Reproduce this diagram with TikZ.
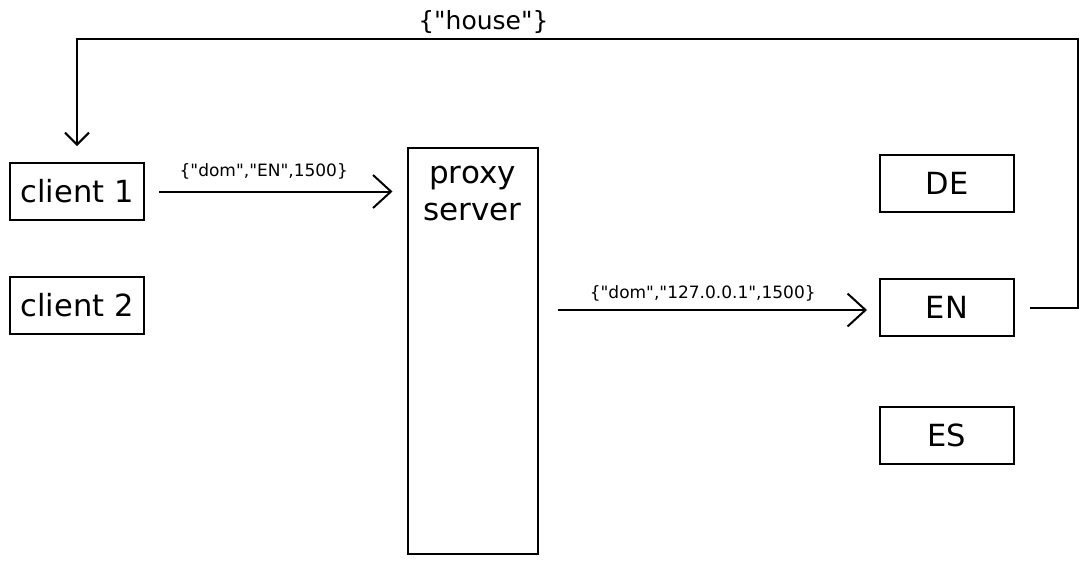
\documentclass[tikz,border=0pt]{standalone}
\usepackage{fontspec}
\setmainfont{DejaVu Sans}[Ligatures=TeXOff]
\usetikzlibrary{arrows.meta}
\tikzset{
  box/.style={draw, line width=2pt, minimum width=134pt, minimum height=57pt, inner sep=0pt, font=\fontsize{30.5}{37}\selectfont},
  msg/.style={line width=2pt, -{Straight Barb[length=18pt,width=33pt,line width=2pt]}},
  back/.style={line width=2pt, -{Straight Barb[length=12pt,width=24pt,line width=2pt]}},
  lbl/.style={font=\fontsize{17}{20}\selectfont, inner sep=2pt}
}
\begin{document}
\begin{tikzpicture}[x=1pt, y=-1pt]
    \useasboundingbox (0,0) rectangle (1090,563);
    \node[box] (CL1) at (77, 191.5) {client 1};
    \node[box] (CL2) at (77, 305.5) {client 2};
    \node[box, minimum width=130pt, minimum height=406pt] (PX) at (472.5, 350.5) {};
    \node[anchor=north, align=center, inner sep=0pt, font=\fontsize{31}{37}\selectfont] (PXT) at (472.5, 166) {proxy\\server};
    \node[box] (DE) at (947, 183.5) {DE};
    \node[box] (EN) at (947, 307.5) {EN};
    \node[box] (ES) at (947, 435.5) {ES};
    \coordinate (TR) at (1078, 39);
    \coordinate (TL) at (77, 39);

    \draw[msg, shorten <=14pt, shorten >=14pt] (CL1) -- (PX.west |- CL1) node [lbl, midway, above, xshift=-12pt, yshift=9pt] {\{"dom","EN",1500\}};
    \draw[msg, shorten <=19pt, shorten >=12pt] (PX.east |- 0,310) -- (EN.west |- 0,310) node [lbl, midway, above, xshift=-6pt, yshift=6pt] {\{"dom","127.0.0.1",1500\}};
    \draw[back, shorten <=15pt, shorten >=16pt] (EN.east) -| (TR) -- (TL) node [pos=0.594, above, yshift=1pt, font=\fontsize{25}{30}\selectfont] (HS) {\{"house"\}} -- (CL1.north);
\end{tikzpicture}
\end{document}
